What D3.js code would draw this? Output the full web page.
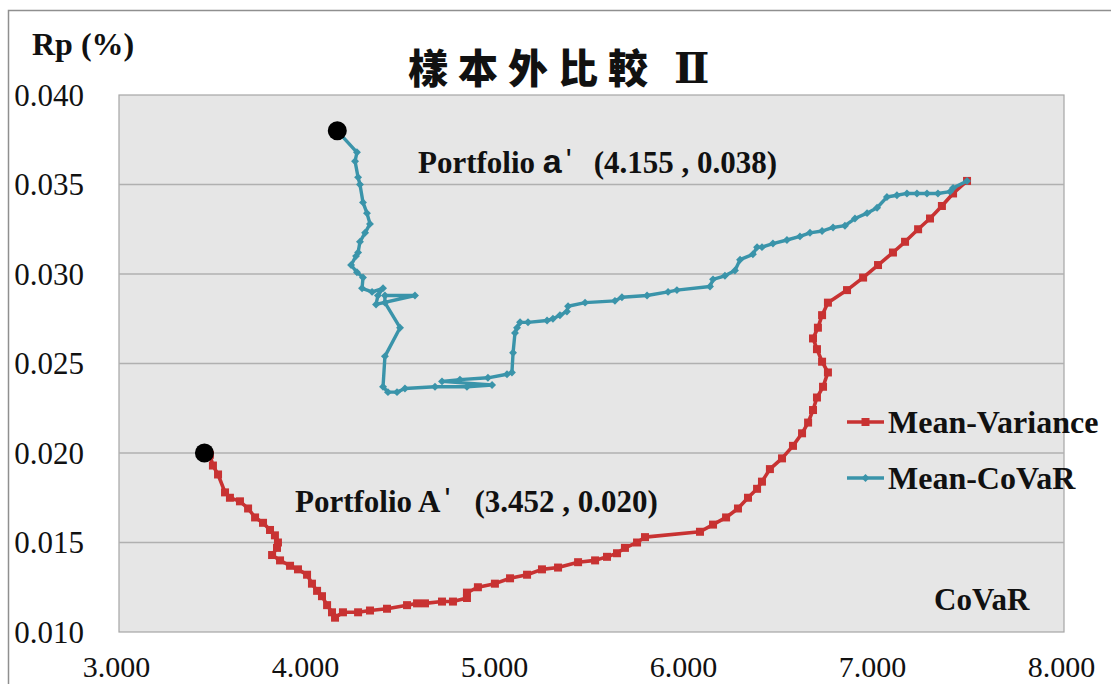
<!DOCTYPE html>
<html>
<head>
<meta charset="utf-8">
<script src="https://cdn.jsdelivr.net/npm/d3@7"></script>
<style>
  body { margin: 0; background: #fff; }
  svg { display: block; }
</style>
</head>
<body>
<svg id="chart" width="1111" height="684"></svg>
<script>
// Axis ticks
const xTicks = [3, 4, 5, 6, 7, 8];
const yTicks = [0.010, 0.015, 0.020, 0.025, 0.030, 0.035, 0.040];

// Mean-Variance frontier (CoVaR, Rp)
const mvCovar = [3.452, 3.481, 3.497, 3.524, 3.561, 3.587, 3.640, 3.683, 3.720, 3.762, 3.799, 3.825, 3.841, 3.836, 3.810,
  3.852, 3.905, 3.947, 3.995, 4.021, 4.048, 4.074, 4.101, 4.127, 4.143, 4.185, 4.265, 4.328, 4.418, 4.524, 4.577,
  4.619, 4.709, 4.767, 4.841, 4.841, 4.899, 4.989, 5.069, 5.159, 5.238, 5.323, 5.429, 5.519, 5.582, 5.635, 5.677,
  5.741, 5.783, 6.074, 6.143, 6.212, 6.275, 6.328, 6.376, 6.402, 6.444, 6.508, 6.566, 6.614, 6.646, 6.672, 6.693,
  6.725, 6.751, 6.720, 6.693, 6.672, 6.698, 6.720, 6.751, 6.852, 6.937, 7.016, 7.095, 7.159, 7.228, 7.291, 7.354,
  7.413, 7.487];
const mvReturn = [0.0200, 0.0199, 0.0193, 0.0188, 0.0178, 0.0175, 0.0173, 0.0169, 0.0164, 0.0161, 0.0157, 0.0154, 0.0150, 0.0147, 0.0143,
  0.0140, 0.0137, 0.0135, 0.0132, 0.0127, 0.0123, 0.0120, 0.0115, 0.0111, 0.0108, 0.0111, 0.0111, 0.0112, 0.0113, 0.0115, 0.0116,
  0.0116, 0.0117, 0.0117, 0.0119, 0.0122, 0.0125, 0.0127, 0.0130, 0.0132, 0.0135, 0.0136, 0.0139, 0.0140, 0.0142, 0.0144, 0.0147,
  0.0150, 0.0153, 0.0156, 0.0160, 0.0164, 0.0169, 0.0175, 0.0180, 0.0184, 0.0191, 0.0197, 0.0204, 0.0211, 0.0217, 0.0224, 0.0231,
  0.0237, 0.0245, 0.0251, 0.0258, 0.0264, 0.0270, 0.0277, 0.0284, 0.0291, 0.0298, 0.0305, 0.0312, 0.0318, 0.0325, 0.0331, 0.0338,
  0.0345, 0.0352];

// Mean-CoVaR frontier (CoVaR, Rp)
const mcCovar = [4.155, 4.259, 4.249, 4.265, 4.275, 4.291, 4.312, 4.328, 4.302, 4.275, 4.265, 4.254, 4.228, 4.259, 4.291,
  4.286, 4.339, 4.397, 4.370, 4.360, 4.566, 4.407, 4.407, 4.487, 4.407, 4.397, 4.423, 4.471, 4.513, 4.672, 4.841,
  4.974, 4.709, 4.804, 4.952, 5.053, 5.079, 5.085, 5.095, 5.106, 5.122, 5.164, 5.265, 5.296, 5.333, 5.370, 5.376,
  5.466, 5.624, 5.661, 5.794, 5.905, 5.952, 6.127, 6.143, 6.206, 6.259, 6.286, 6.354, 6.376, 6.402, 6.460, 6.534,
  6.603, 6.656, 6.720, 6.778, 6.841, 6.894, 6.958, 7.011, 7.063, 7.116, 7.169, 7.222, 7.275, 7.333, 7.397, 7.413,
  7.487];
const mcReturn = [0.0380, 0.0368, 0.0363, 0.0354, 0.0350, 0.0340, 0.0334, 0.0328, 0.0323, 0.0318, 0.0312, 0.0310, 0.0305, 0.0301, 0.0298,
  0.0292, 0.0290, 0.0292, 0.0288, 0.0283, 0.0288, 0.0288, 0.0284, 0.0270, 0.0254, 0.0237, 0.0234, 0.0234, 0.0236, 0.0237, 0.0237,
  0.0238, 0.0240, 0.0241, 0.0242, 0.0244, 0.0245, 0.0256, 0.0267, 0.0270, 0.0273, 0.0273, 0.0274, 0.0275, 0.0277, 0.0279, 0.0282,
  0.0284, 0.0285, 0.0287, 0.0288, 0.0290, 0.0291, 0.0293, 0.0297, 0.0299, 0.0302, 0.0308, 0.0311, 0.0315, 0.0315, 0.0317, 0.0319,
  0.0321, 0.0323, 0.0324, 0.0326, 0.0327, 0.0331, 0.0334, 0.0337, 0.0343, 0.0344, 0.0345, 0.0345, 0.0345, 0.0345, 0.0346, 0.0348,
  0.0352];

// Highlighted starting portfolios
const portfolioNames = ["A", "a"];
const portfolioCovar = [3.452, 4.155];
const portfolioReturn = [0.020, 0.038];

const seriesNames = ["Mean-Variance", "Mean-CoVaR"];
const RED = "#C83232";
const TEAL = "#3A94AA";
const SERIF = "'Liberation Serif', 'Times New Roman', serif";
const SANS = "'Liberation Sans', Arial, sans-serif";

const svg = d3.select("#chart");
const plot = { left: 119, right: 1064, top: 95, bottom: 632 };

const x = d3.scaleLinear().domain([3, 8]).range([plot.left, plot.right]);
const y = d3.scaleLinear().domain([0.010, 0.040]).range([plot.bottom, plot.top]);

// Outer frame (left and top edges)
svg.append("path")
  .attr("d", "M8.5,684 V10.5 H1111")
  .attr("fill", "none").attr("stroke", "#8f8f8f").attr("stroke-width", 1.5);

// Plot background
svg.append("rect")
  .attr("x", plot.left).attr("y", plot.top)
  .attr("width", plot.right - plot.left).attr("height", plot.bottom - plot.top)
  .attr("fill", "#E6E6E6").attr("stroke", "#A6A6A6").attr("stroke-width", 1.2);

// Horizontal gridlines
svg.append("g").selectAll("line")
  .data(yTicks.slice(1, -1))
  .join("line")
  .attr("x1", plot.left).attr("x2", plot.right)
  .attr("y1", d => y(d)).attr("y2", d => y(d))
  .attr("stroke", "#B0B0B0").attr("stroke-width", 1.5);

// Y axis labels
const yAxis = svg.append("g")
  .attr("transform", `translate(${plot.left - 35},0)`)
  .call(d3.axisLeft(y).tickValues(yTicks).tickFormat(d3.format(".3f")).tickSize(0).tickPadding(0));
yAxis.select(".domain").remove();
yAxis.selectAll("text")
  .style("font-family", SERIF).style("font-size", "31px").attr("fill", "#111")
  .attr("dy", "0.33em");

// X axis labels
const xAxis = svg.append("g")
  .attr("transform", `translate(-3,${plot.bottom})`)
  .call(d3.axisBottom(x).tickValues(xTicks).tickFormat(d3.format(".3f")).tickSize(0).tickPadding(0));
xAxis.select(".domain").remove();
xAxis.selectAll("text")
  .style("font-family", SERIF).style("font-size", "30px").attr("fill", "#111")
  .attr("y", 45).attr("dy", 0);

const line = d3.line().x(d => x(d[0])).y(d => y(d[1]));
const mvPoints = d3.zip(mvCovar, mvReturn);
const mcPoints = d3.zip(mcCovar, mcReturn);

// Mean-Variance line with square markers
svg.append("path").datum(mvPoints)
  .attr("d", line).attr("fill", "none")
  .attr("stroke", RED).attr("stroke-width", 3.6).attr("stroke-linejoin", "round");
svg.append("g").selectAll("rect")
  .data(mvPoints).join("rect")
  .attr("x", d => x(d[0]) - 4).attr("y", d => y(d[1]) - 4)
  .attr("width", 8).attr("height", 8).attr("fill", RED);

// Mean-CoVaR line with diamond markers
svg.append("path").datum(mcPoints)
  .attr("d", line).attr("fill", "none")
  .attr("stroke", TEAL).attr("stroke-width", 3.4).attr("stroke-linejoin", "round");
const diamond = d3.symbol().type(d3.symbolDiamond2).size(40);
svg.append("g").selectAll("path")
  .data(mcPoints).join("path")
  .attr("transform", d => `translate(${x(d[0])},${y(d[1])})`)
  .attr("d", diamond).attr("fill", TEAL);

// Starting portfolios
svg.append("g").selectAll("circle")
  .data(d3.zip(portfolioCovar, portfolioReturn)).join("circle")
  .attr("cx", d => x(d[0])).attr("cy", d => y(d[1]))
  .attr("r", 9.5).attr("fill", "#000");

// Portfolio annotations
function portfolioLabel(px, py, idx, letterFont, letterSize, letterGap) {
  const t = svg.append("text")
    .attr("x", px).attr("y", py)
    .style("font-family", SERIF).style("font-size", "31px").style("font-weight", "bold").attr("fill", "#111");
  t.append("tspan").text("Portfolio ");
  t.append("tspan")
    .style("font-family", letterFont).style("font-size", letterSize + "px")
    .text(portfolioNames[idx]);
  t.append("tspan")
    .style("font-family", SANS).style("font-weight", "normal")
    .attr("dx", 4).attr("dy", -2).text("'");
  const fmt = d3.format(".3f");
  t.append("tspan").attr("dx", letterGap).attr("dy", 2)
    .text(`(${fmt(portfolioCovar[idx])} , ${fmt(portfolioReturn[idx])})`);
}
portfolioLabel(295, 512, 0, SERIF, 31, 24);
portfolioLabel(418, 173, 1, SANS, 34, 22);

// Title: CJK heading followed by a serif Roman numeral
const title = svg.append("text")
  .attr("x", 408).attr("y", 83)
  .style("font-family", "'Noto Sans CJK TC', 'Noto Sans CJK SC', sans-serif")
  .style("font-size", "40px").style("font-weight", 900).attr("letter-spacing", 10).attr("fill", "#111");
title.append("tspan").text("樣本外比較");
title.append("tspan")
  .attr("dx", 16)
  .style("font-family", "'DejaVu Serif', 'Liberation Serif', serif")
  .style("font-weight", "bold").style("font-size", "42px").attr("letter-spacing", 0)
  .text("Ⅱ");

// Axis titles
svg.append("text")
  .attr("x", 32).attr("y", 55)
  .style("font-family", SERIF).style("font-size", "32px").style("font-weight", "bold").attr("fill", "#111")
  .text("Rp (%)");
svg.append("text")
  .attr("x", 934).attr("y", 610)
  .style("font-family", SERIF).style("font-size", "31px").style("font-weight", "bold").attr("fill", "#111")
  .text("CoVaR");

// Legend
const legendY = [422, 478];
const legend = svg.append("g").selectAll("g")
  .data(seriesNames).join("g")
  .attr("transform", (d, i) => `translate(847,${legendY[i]})`);
legend.append("line")
  .attr("x1", 0).attr("x2", 37)
  .attr("stroke", (d, i) => i === 0 ? RED : TEAL).attr("stroke-width", 3.4);
legend.filter((d, i) => i === 0).append("rect")
  .attr("x", 14.5).attr("y", -4).attr("width", 8).attr("height", 8).attr("fill", RED);
legend.filter((d, i) => i === 1).append("path")
  .attr("transform", "translate(18.5,0)").attr("d", diamond).attr("fill", TEAL);
legend.append("text")
  .attr("x", 41).attr("y", 11)
  .style("font-family", SERIF).style("font-size", "32px").style("font-weight", "bold").attr("fill", "#111")
  .text(d => d);
</script>
</body>
</html>
